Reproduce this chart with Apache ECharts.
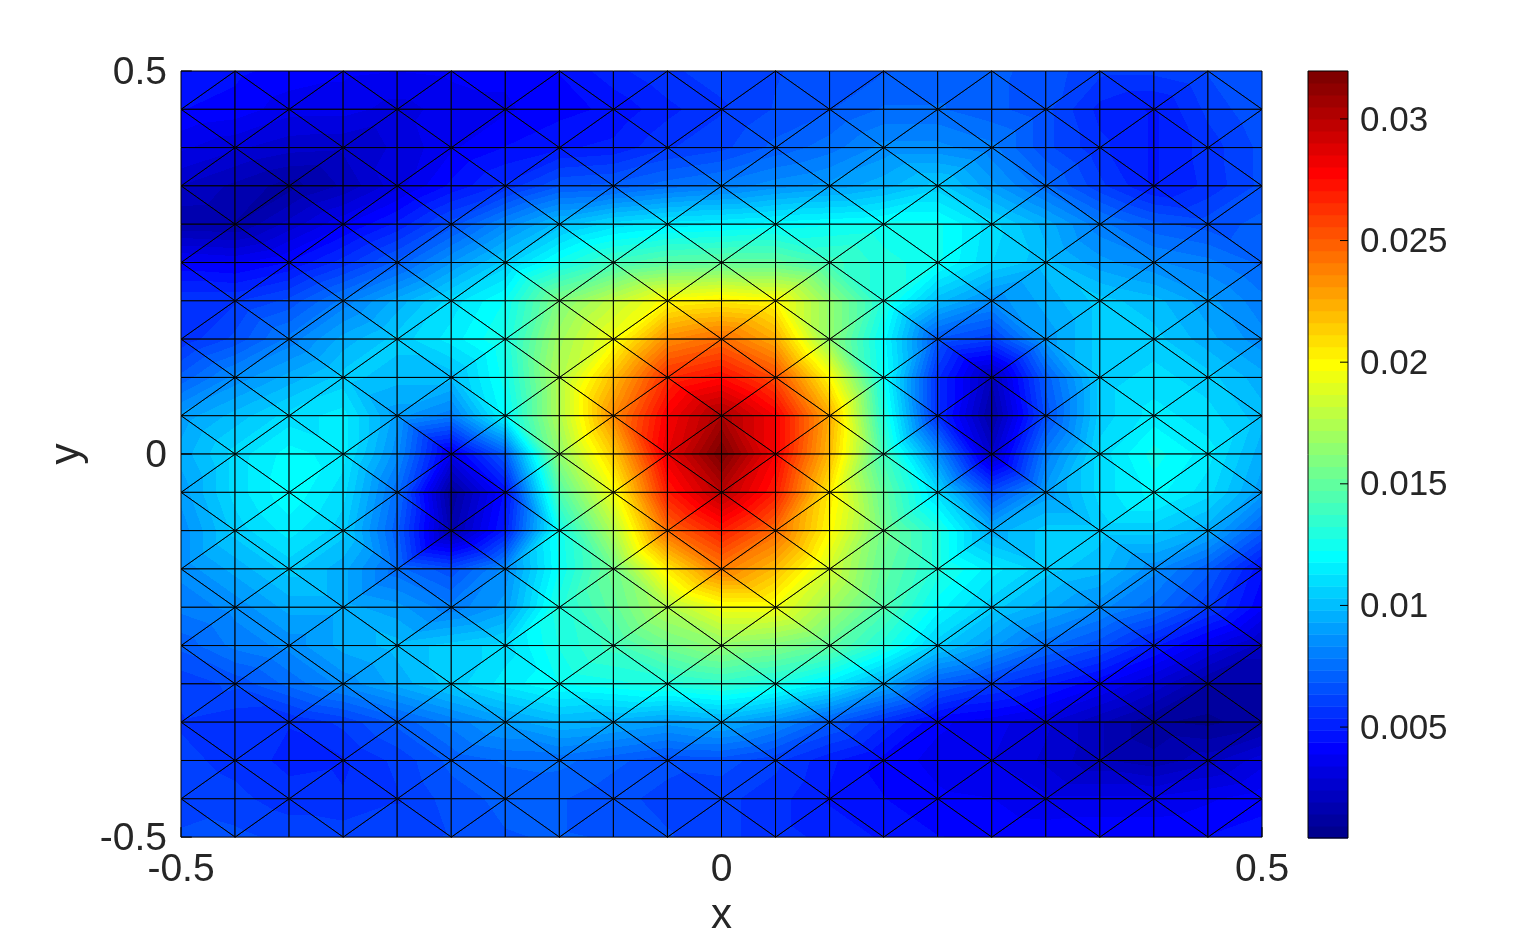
<!DOCTYPE html>
<html>
<head>
<meta charset="utf-8">
<script src="https://cdn.jsdelivr.net/npm/echarts@6/dist/echarts.min.js"></script>
<style>html,body{margin:0;padding:0;background:#fff}#c{width:1522px;height:942px}</style>
</head>
<body>
<div id="c"></div>
<script>
// Node coordinates of the mesh
var xNodes = [-0.5,-0.45,-0.4,-0.35,-0.3,-0.25,-0.2,-0.15,-0.1,-0.05,0,0.05,0.1,0.15,0.2,0.25,0.3,0.35,0.4,0.45,0.5];
var yNodes = [0.5,0.45,0.4,0.35,0.3,0.25,0.2,0.15,0.1,0.05,0,-0.05,-0.1,-0.15,-0.2,-0.25,-0.3,-0.35,-0.4,-0.45,-0.5];
// Field value at each node, in thousandths, one list per row (top row first)
var nodeValues = [
[4.6,4.5,4.2,4.0,3.9,4.0,4.0,4.4,5.2,5.8,6.0,6.3,6.6,6.8,7.0,7.0,6.6,6.0,6.0,6.4,6.8],
[4.4,4.2,3.6,3.6,3.2,3.6,3.8,4.2,4.5,5.2,5.8,6.4,6.8,7.4,7.4,7.0,6.5,5.2,4.8,6.0,6.8],
[3.5,3.0,2.6,2.5,3.0,3.8,4.4,4.8,5.0,5.8,6.2,7.0,7.6,8.5,8.5,8.0,6.5,5.5,4.8,5.6,6.5],
[2.4,1.8,1.2,2.0,3.2,4.5,5.5,6.8,7.0,7.6,8.0,8.6,9.0,9.6,10.5,9.0,7.5,6.0,4.8,5.5,6.5],
[1.5,1.4,2.6,3.8,5.0,6.6,8.4,10.0,11.0,11.5,11.7,12.0,12.2,12.4,12.4,11.0,9.6,8.0,7.0,6.6,7.0],
[4.0,3.8,4.4,5.6,7.0,8.8,10.5,12.5,14.0,14.8,15.0,15.0,14.0,13.0,12.4,10.8,10.0,9.0,8.4,8.0,7.2],
[5.8,5.8,6.5,8.0,9.5,11.0,12.3,16.0,18.0,20.0,20.5,20.0,16.5,13.0,10.0,8.5,9.5,10.5,10.0,9.0,8.0],
[5.5,6.5,8.0,9.5,10.5,11.5,12.8,17.0,19.5,23.5,24.5,22.5,16.5,12.0,6.8,6.0,9.0,10.5,10.5,9.5,8.5],
[7.0,8.5,9.5,10.5,10.0,10.0,12.5,17.5,22.0,26.5,27.5,25.5,20.0,12.3,5.5,2.0,7.0,10.5,11.0,10.5,9.5],
[9.0,10.0,11.0,11.5,9.0,8.0,12.0,17.5,23.5,28.0,30.5,28.0,22.5,13.0,5.5,1.3,6.5,10.5,11.5,11.0,10.0],
[9.5,11.0,12.0,11.5,8.5,3.5,7.0,16.5,21.5,28.5,32.0,28.0,22.0,14.0,8.5,2.5,8.0,11.0,12.5,11.5,9.5],
[9.0,11.0,12.2,11.0,7.5,1.0,4.5,14.5,19.5,27.0,30.0,27.0,20.5,15.0,11.0,6.5,9.0,11.0,12.0,11.0,9.0],
[8.5,10.5,11.5,10.5,7.0,1.6,5.0,12.5,17.5,24.5,27.0,24.5,20.0,15.5,13.0,9.5,10.5,10.5,10.5,9.5,7.0],
[8.5,9.5,10.5,9.5,7.5,6.5,8.5,12.3,15.5,20.5,24.0,22.0,18.5,15.0,13.0,11.5,10.5,10.0,8.5,7.0,4.5],
[8.0,8.5,9.5,9.5,9.0,8.0,9.0,13.0,15.0,17.5,19.5,19.5,17.0,14.5,12.0,10.5,9.5,8.5,7.5,6.0,4.0],
[7.0,8.0,8.5,9.5,10.0,10.5,11.0,12.8,14.0,15.5,16.5,16.0,15.0,13.0,10.5,9.0,7.5,6.5,5.0,3.5,2.2],
[6.0,6.5,7.5,8.5,9.5,10.5,11.5,12.3,12.6,13.0,13.5,12.8,11.5,9.5,7.0,6.0,5.0,4.0,2.8,1.4,1.4],
[5.8,5.5,5.4,6.0,7.0,8.0,9.0,9.8,9.5,9.0,9.5,8.5,7.0,5.5,4.0,3.6,3.0,2.0,1.0,0.8,1.2],
[6.0,5.7,5.2,5.3,6.0,7.0,7.4,7.5,7.0,6.5,6.6,6.0,5.0,4.2,3.7,3.4,2.8,2.0,1.6,2.2,3.2],
[6.2,6.0,5.6,5.4,5.8,6.6,7.0,6.9,6.5,6.2,6.0,5.6,4.8,4.4,4.0,3.9,3.5,3.5,3.5,3.8,4.2],
[6.4,6.5,6.2,6.2,6.2,6.4,6.8,6.9,6.8,6.4,6.0,5.6,5.2,4.8,4.4,4.3,4.2,4.3,4.3,4.4,4.6]
];
var colorMin = 0.00044, colorMax = 0.03197, colorLevels = 64;
var axisTicks = [-0.5, 0, 0.5];
var colorbarTicks = [0.005, 0.01, 0.015, 0.02, 0.025, 0.03];
var textColor = '#262626', fontFamily = '"Liberation Sans", Arial, sans-serif';

// MATLAB jet(64)
function buildJet(m) {
  var n = Math.ceil(m / 4), u = [], i;
  for (i = 1; i <= n; i++) u.push(i / n);
  for (i = 1; i < n; i++) u.push(1);
  for (i = n; i >= 1; i--) u.push(i / n);
  var g0 = Math.ceil(n / 2) - (m % 4 === 1 ? 1 : 0);
  var map = [];
  for (i = 0; i < m; i++) map.push([0, 0, 0]);
  u.forEach(function (val, k) {
    var g = g0 + k + 1, r = g + n, b = g - n;
    if (r <= m) map[r - 1][0] = val;
    if (g <= m) map[g - 1][1] = val;
    if (b >= 1) map[b - 1][2] = val;
  });
  return map.map(function (c) {
    return 'rgb(' + Math.round(c[0] * 255) + ',' + Math.round(c[1] * 255) + ',' + Math.round(c[2] * 255) + ')';
  });
}
var jet = buildJet(colorLevels);

// Mesh triangles: each cell split by one diagonal, alternating direction
var triangles = [];
function node(i, j) { return [xNodes[i], yNodes[j], nodeValues[j][i] / 1000]; }
for (var j = 0; j < yNodes.length - 1; j++) {
  for (var i = 0; i < xNodes.length - 1; i++) {
    var a = node(i, j), b = node(i + 1, j), c = node(i + 1, j + 1), d = node(i, j + 1);
    if ((i + j) % 2 === 1) {
      triangles.push(a.concat(b, c));
      triangles.push(a.concat(c, d));
    } else {
      triangles.push(b.concat(c, d));
      triangles.push(b.concat(d, a));
    }
  }
}
var colorbarData = jet.map(function (col, k) {
  var step = (colorMax - colorMin) / colorLevels;
  return [0, colorMin + k * step, 1, colorMin + (k + 1) * step, k];
});
// Tick segments in axis units
var colorbarTickData = colorbarTicks.map(function (v) { return [0.8, v, 1, v]; });
var mainTickData = [];
axisTicks.forEach(function (t) {
  mainTickData.push([-0.5, t, -0.49, t]);
  mainTickData.push([t, -0.5, t, -0.487]);
});

function level(v) {
  var k = Math.floor((v - colorMin) / (colorMax - colorMin) * colorLevels);
  return Math.max(0, Math.min(colorLevels - 1, k));
}
function levelEdge(k) { return colorMin + k * (colorMax - colorMin) / colorLevels; }

function renderTriangle(params, api) {
  var pts = [], vals = [];
  for (var k = 0; k < 3; k++) {
    pts.push(api.coord([api.value(k * 3), api.value(k * 3 + 1)]));
    vals.push(api.value(k * 3 + 2));
  }
  var dx1 = pts[1][0] - pts[0][0], dy1 = pts[1][1] - pts[0][1];
  var dx2 = pts[2][0] - pts[0][0], dy2 = pts[2][1] - pts[0][1];
  var dv1 = vals[1] - vals[0], dv2 = vals[2] - vals[0];
  var det = dx1 * dy2 - dx2 * dy1;
  var gx = (dv1 * dy2 - dv2 * dy1) / det, gy = (dx1 * dv2 - dx2 * dv1) / det;
  var vLo = Math.min.apply(null, vals), vHi = Math.max.apply(null, vals);
  var kLo = level(vLo), kHi = level(vHi), fill;
  if (kLo === kHi) {
    fill = jet[kLo];
  } else {
    var g2 = gx * gx + gy * gy;
    var p = pts[vals.indexOf(vLo)];
    var span = vHi - vLo;
    var stops = [{ offset: 0, color: jet[kLo] }];
    for (var m = kLo + 1; m <= kHi; m++) {
      var off = (levelEdge(m) - vLo) / span;
      off = Math.max(0, Math.min(1, off));
      stops.push({ offset: off, color: jet[m - 1] });
      stops.push({ offset: off, color: jet[m] });
    }
    stops.push({ offset: 1, color: jet[kHi] });
    fill = new echarts.graphic.LinearGradient(
      p[0], p[1], p[0] + gx / g2 * span, p[1] + gy / g2 * span, stops, true
    );
  }
  return {
    type: 'polygon',
    shape: { points: pts },
    style: { fill: fill, stroke: '#000', lineWidth: 1, lineJoin: 'bevel' }
  };
}
function renderBand(params, api) {
  var p0 = api.coord([api.value(0), api.value(1)]);
  var p1 = api.coord([api.value(2), api.value(3)]);
  return {
    type: 'rect',
    shape: { x: p0[0], y: p1[1], width: p1[0] - p0[0], height: p0[1] - p1[1] + 0.5 },
    style: { fill: jet[api.value(4)] }
  };
}
function renderFrame(params, api) {
  var p0 = api.coord([api.value(0), api.value(1)]);
  var p1 = api.coord([api.value(2), api.value(3)]);
  return {
    type: 'rect',
    shape: { x: p0[0], y: p1[1], width: p1[0] - p0[0], height: p0[1] - p1[1] },
    style: { fill: 'none', stroke: '#000', lineWidth: 1 }
  };
}
function renderTick(params, api) {
  var p0 = api.coord([api.value(0), api.value(1)]);
  var p1 = api.coord([api.value(2), api.value(3)]);
  return {
    type: 'line',
    shape: { x1: p0[0], y1: p0[1], x2: p1[0], y2: p1[1] },
    style: { stroke: '#000', lineWidth: 1 }
  };
}

var chart = echarts.init(document.getElementById('c'), null, { renderer: 'canvas' });
var labelFont = { color: textColor, fontFamily: fontFamily, fontSize: 39 };
var nameFont = { color: textColor, fontFamily: fontFamily, fontSize: 42 };
chart.setOption({
  animation: false,
  backgroundColor: '#fff',
  grid: [
    { left: 181, top: 71, width: 1081, height: 767 },
    { left: 1308, top: 71, width: 40, height: 767 }
  ],
  xAxis: [
    {
      gridIndex: 0, type: 'value', min: -0.5, max: 0.5, interval: 0.5,
      name: 'x', nameLocation: 'middle', nameGap: 55,
      nameTextStyle: nameFont,
      axisLine: { show: false }, splitLine: { show: false }, axisTick: { show: false },
      axisLabel: Object.assign({ margin: 14 }, labelFont)
    },
    { gridIndex: 1, type: 'value', min: 0, max: 1, show: false }
  ],
  yAxis: [
    {
      gridIndex: 0, type: 'value', min: -0.5, max: 0.5, interval: 0.5,
      name: 'y', nameLocation: 'middle', nameGap: 88,
      nameTextStyle: nameFont,
      axisLine: { show: false }, splitLine: { show: false }, axisTick: { show: false },
      axisLabel: Object.assign({ margin: 14, verticalAlign: 'top', lineHeight: 4 }, labelFont)
    },
    {
      gridIndex: 1, type: 'value', position: 'right', min: colorMin, max: colorMax,
      axisLine: { show: false }, splitLine: { show: false }, axisTick: { show: false },
      axisLabel: {
        show: true, margin: 12, verticalAlign: 'top', lineHeight: 4, customValues: colorbarTicks,
        color: textColor, fontFamily: fontFamily, fontSize: 35,
        formatter: function (v) { return String(+v.toFixed(3)); }
      }
    }
  ],
  series: [
    {
      type: 'custom', xAxisIndex: 0, yAxisIndex: 0, data: triangles, renderItem: renderTriangle,
      encode: { x: [0, 3, 6], y: [1, 4, 7] }, silent: true, clip: false, z: 2
    },
    {
      type: 'custom', xAxisIndex: 0, yAxisIndex: 0, data: mainTickData, renderItem: renderTick,
      encode: { x: [0, 2], y: [1, 3] }, silent: true, z: 3
    },
    {
      type: 'custom', xAxisIndex: 1, yAxisIndex: 1, data: colorbarData, renderItem: renderBand,
      encode: { x: [0, 2], y: [1, 3] }, silent: true, z: 2
    },
    {
      type: 'custom', xAxisIndex: 1, yAxisIndex: 1, data: [[0, colorMin, 1, colorMax]], renderItem: renderFrame,
      encode: { x: [0, 2], y: [1, 3] }, silent: true, z: 3
    },
    {
      type: 'custom', xAxisIndex: 1, yAxisIndex: 1, data: colorbarTickData, renderItem: renderTick,
      encode: { x: [0, 2], y: [1, 3] }, silent: true, z: 3
    }
  ]
});
</script>
</body>
</html>
